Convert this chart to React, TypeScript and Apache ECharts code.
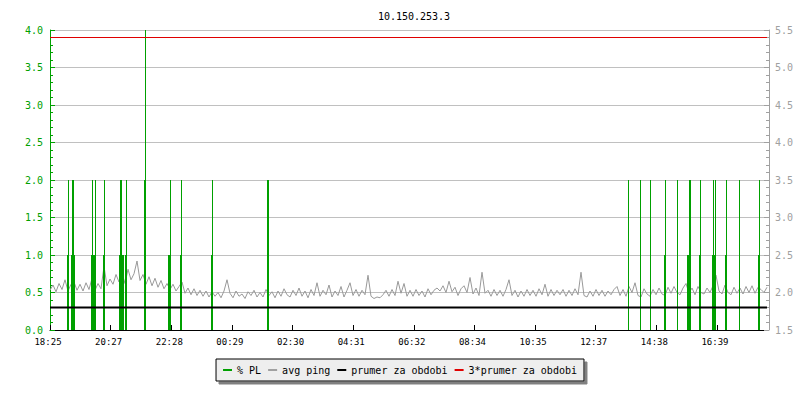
import React, { useEffect, useRef } from "react";
import * as echarts from "echarts";

// ---- data ----
const title = "10.150.253.3";
const xTickLabels = ["18:25", "20:27", "22:28", "00:29", "02:30", "04:31", "06:32", "08:34", "10:35", "12:37", "14:38", "16:39"];
const xTickIntervalMin = 121.27; // minutes between labelled ticks
const spanMin = 1434; // minutes shown on the x axis

// avg ping (ms), one sample every 6 minutes from 18:25
const pingStepMin = 6;
const pingValues = [
  2.03, 2.10, 2.01, 2.12, 2.04, 2.17, 2.02, 2.11, 2.14, 2.03,
  2.11, 2.02, 2.13, 2.04, 2.19, 2.03, 2.12, 2.05, 2.35, 2.09,
  2.18, 2.11, 2.24, 2.14, 2.26, 2.12, 2.31, 2.17, 2.25, 2.42,
  2.16, 2.24, 2.11, 2.21, 2.09, 2.19, 2.07, 2.16, 2.05, 2.12,
  2.04, 2.11, 2.02, 2.08, 2.14, 1.99, 2.06, 1.97, 2.05, 1.96,
  2.03, 1.95, 2.02, 1.94, 2.01, 1.95, 2.00, 1.93, 2.02, 2.17,
  1.99, 1.93, 2.02, 1.95, 1.98, 1.92, 2.01, 1.96, 2.03, 1.94,
  2.00, 1.94, 2.04, 1.96, 2.01, 1.93, 2.02, 1.95, 2.05, 1.97,
  1.94, 2.03, 1.96, 2.06, 1.95, 2.02, 1.93, 2.04, 1.96, 2.13,
  1.95, 2.03, 1.97, 2.10, 1.94, 2.02, 1.96, 2.08, 1.94, 2.03,
  2.13, 1.96, 2.04, 1.95, 2.03, 1.97, 2.23, 1.95, 1.92, 1.94,
  1.93, 1.97, 2.03, 1.95, 2.04, 1.96, 2.15, 1.99, 2.12, 1.95,
  2.03, 1.95, 2.04, 1.96, 2.02, 1.94, 2.05, 1.97, 2.03, 2.06,
  2.02, 2.09, 2.00, 2.15, 2.01, 2.07, 1.96, 2.05, 2.09, 2.00,
  2.20, 1.98, 2.06, 1.96, 2.27, 1.99, 2.03, 1.95, 2.04, 1.96,
  2.03, 1.95, 2.04, 2.17, 1.96, 2.03, 1.94, 2.02, 1.95, 2.04,
  1.96, 2.03, 1.95, 2.05, 1.97, 2.11, 1.95, 2.04, 1.96, 2.03,
  1.97, 2.04, 1.95, 2.03, 1.96, 2.05, 1.97, 2.27, 1.96, 1.94,
  2.02, 1.95, 2.04, 1.96, 2.03, 1.95, 2.02, 1.97, 2.04, 2.08,
  1.96, 2.04, 1.95, 2.08, 2.00, 2.13, 1.96, 1.94, 2.05, 1.98,
  1.95, 2.04, 1.97, 2.06, 1.98, 1.96, 2.07, 1.99, 2.08, 2.00,
  1.97, 2.06, 2.12, 1.99, 2.06, 1.97, 2.08, 2.00, 1.98, 2.06,
  2.00, 2.09, 2.23, 2.02, 1.98, 2.10, 2.00, 1.97, 2.07, 1.99,
  2.06, 1.98, 2.08, 2.00, 2.09, 1.99, 2.07, 2.04, 2.00, 2.07,
];

// % PL periods: [start minute, end minute, value]
const plPeriods = [
  [34, 38, 1], [42, 49, 1], [82, 90, 1], [106, 110, 1], [138, 147, 1], [150, 153, 1],
  [188, 192, 2], [236, 242, 1], [260, 264, 1], [322, 326, 1], [434, 438, 2],
  [1155, 1158, 1], [1179, 1182, 1], [1199, 1202, 1], [1228, 1231, 1], [1253, 1256, 1],
  [1274, 1282, 1], [1298, 1301, 1], [1323, 1331, 1], [1350, 1353, 1], [1377, 1380, 1],
  [1416, 1420, 1],
];
// % PL short peaks: [minute, value]
const plPeaks = [
  [35, 2], [43, 2], [46, 2], [83, 2], [89, 2], [107, 2], [139, 2], [142, 2], [151, 2],
  [189, 4], [239, 2], [261, 2], [324, 2],
  [1155, 2], [1180, 2], [1200, 2], [1229, 2], [1253, 2], [1277, 2], [1280, 2], [1299, 2],
  [1325, 2], [1330, 2], [1351, 2], [1378, 2], [1417, 2],
];

const prumerValue = 1.8; // right axis
const triplePrumerValue = 5.4; // right axis

// ---- styles ----
const FONT = "DejaVu Sans Mono";
const GREEN = "#00a000";
const GRAY = "#a0a0a0";
const PING = "#999999";

export default function App() {
  const ref = useRef<HTMLDivElement>(null);
  useEffect(() => {
    if (!ref.current) return;
    const chart = echarts.init(ref.current, null, { renderer: "svg" });
    const option: any = {
      animation: false,
      backgroundColor: "#ffffff",
      title: {
        text: title,
        left: 409,
        top: 6,
        textAlign: "center",
        textStyle: { fontFamily: FONT, fontSize: 10, fontWeight: "normal", color: "#000" },
      },
      legend: {
        data: ["% PL", "avg ping", "prumer za obdobi", "3*prumer za obdobi"],
        left: "center",
        top: 359,
        icon: "rect",
        itemWidth: 9,
        itemHeight: 2,
        itemGap: 7,
        padding: [6, 7],
        backgroundColor: "#eeeeee",
        borderColor: "#000",
        borderWidth: 1,
        shadowColor: "#808080",
        shadowOffsetX: 3,
        shadowOffsetY: 3,
        shadowBlur: 0,
        selectedMode: false,
        textStyle: { fontFamily: FONT, fontSize: 10, color: "#000" },
      },
      grid: { left: 50, right: 33, top: 30, bottom: 70, containLabel: false },
      xAxis: {
        type: "value",
        min: 0,
        max: spanMin,
        interval: xTickIntervalMin,
        axisLine: { lineStyle: { color: "#000", width: 1 } },
        axisTick: { inside: true, length: 5, lineStyle: { color: "#000" } },
        splitLine: { show: false },
        axisLabel: {
          showMaxLabel: false,
          margin: 7,
          padding: [0, 4, 0, 0],
          fontFamily: FONT,
          fontSize: 9,
          color: "#000",
          formatter: (v: number) => {
            const i = Math.round(v / xTickIntervalMin);
            if (Math.abs(i * xTickIntervalMin - v) > 1) return "";
            return xTickLabels[i] ?? "";
          },
        },
      },
      yAxis: [
        {
          type: "value",
          min: 0,
          max: 4,
          interval: 0.5,
          axisLine: { show: true, lineStyle: { color: GREEN } },
          axisTick: { show: true, inside: true, length: 5, lineStyle: { color: GREEN } },
          minorTick: { show: true, splitNumber: 5, length: 3, lineStyle: { color: GREEN } },
          splitLine: { show: true, lineStyle: { color: "#c0c0c0", width: 1 } },
          axisLabel: {
            margin: 7,
            fontFamily: FONT,
            fontSize: 10,
            color: GREEN,
            formatter: (v: number) => v.toFixed(1),
          },
        },
        {
          type: "value",
          position: "right",
          offset: 2,
          min: 1.5,
          max: 5.5,
          interval: 0.5,
          axisLine: { show: true, lineStyle: { color: GRAY } },
          axisTick: { show: true, inside: true, length: 5, lineStyle: { color: GRAY } },
          minorTick: { show: true, splitNumber: 5, length: 3, lineStyle: { color: GRAY } },
          splitLine: { show: false },
          axisLabel: {
            margin: 6,
            fontFamily: FONT,
            fontSize: 10,
            color: GRAY,
            formatter: (v: number) => v.toFixed(1),
          },
        },
      ],
      series: [
        {
          name: "avg ping",
          type: "line",
          yAxisIndex: 1,
          showSymbol: false,
          symbol: "none",
          z: 2,
          itemStyle: { color: GRAY },
          lineStyle: { color: PING, width: 1 },
          data: pingValues.map((v, i) => [i * pingStepMin, v]),
        },
        {
          name: "% PL",
          type: "custom",
          yAxisIndex: 0,
          z: 3,
          itemStyle: { color: GREEN },
          encode: { x: [0, 1], y: 2 },
          data: plPeriods,
          renderItem: (params: any, api: any) => {
            const s = api.coord([api.value(0), api.value(2)]);
            const e = api.coord([api.value(1), 0]);
            const x0 = Math.round(s[0]);
            const x1 = Math.max(Math.round(e[0]), x0 + 1);
            return {
              type: "rect",
              shape: { x: x0, y: s[1], width: x1 - x0, height: e[1] - s[1] },
              style: { fill: GREEN },
            };
          },
        },
        {
          name: "% PL",
          type: "custom",
          yAxisIndex: 0,
          z: 3,
          itemStyle: { color: GREEN },
          encode: { x: 0, y: 1 },
          data: plPeaks,
          renderItem: (params: any, api: any) => {
            const t = api.coord([api.value(0), api.value(1)]);
            const b = api.coord([api.value(0), 0]);
            const x0 = Math.round(t[0]);
            return {
              type: "rect",
              shape: { x: x0, y: t[1], width: 1, height: b[1] - t[1] },
              style: { fill: GREEN },
            };
          },
        },
        {
          name: "prumer za obdobi",
          type: "line",
          yAxisIndex: 1,
          showSymbol: false,
          symbol: "none",
          z: 4,
          itemStyle: { color: "#000" },
          lineStyle: { color: "#000", width: 2 },
          data: [[0, prumerValue], [spanMin, prumerValue]],
        },
        {
          name: "3*prumer za obdobi",
          type: "line",
          yAxisIndex: 1,
          showSymbol: false,
          symbol: "none",
          z: 4,
          itemStyle: { color: "#e00000" },
          lineStyle: { color: "#e00000", width: 1 },
          data: [[0, triplePrumerValue], [spanMin, triplePrumerValue]],
        },
      ],
    };
    chart.setOption(option);
    return () => chart.dispose();
  }, []);
  return (
    <div
      ref={ref}
      style={{ position: "fixed", left: 0, top: 0, width: 800, height: 400, background: "#fff" }}
    />
  );
}
